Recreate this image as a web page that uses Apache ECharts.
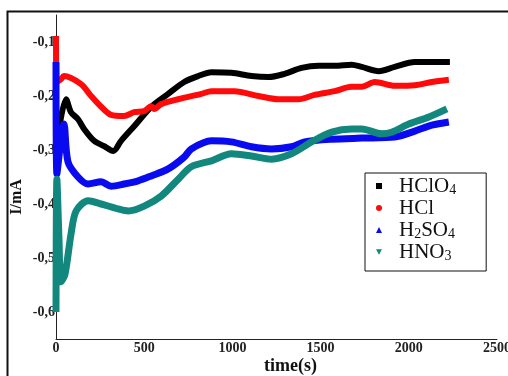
<!DOCTYPE html>
<html>
<head>
<meta charset="utf-8">
<script src="https://cdn.jsdelivr.net/npm/echarts@6/dist/echarts.min.js"></script>
<style>
  html, body { margin: 0; padding: 0; background: #fff; }
  #chart { width: 508px; height: 376px; }
</style>
</head>
<body>
<div id="chart"></div>
<script>
// values (time in s, current in mA)
const hclo4T = [17, 57, 85, 125, 159, 216, 273, 324, 369, 443, 540, 636, 727, 807, 881, 994, 1108, 1205, 1295, 1392, 1489, 1580, 1676, 1733, 1830, 1920, 2034, 2131, 2233];
const hclo4V = [-0.261, -0.206, -0.230, -0.243, -0.261, -0.283, -0.293, -0.302, -0.283, -0.256, -0.220, -0.196, -0.174, -0.163, -0.156, -0.157, -0.163, -0.165, -0.159, -0.148, -0.144, -0.144, -0.142, -0.146, -0.154, -0.146, -0.137, -0.137, -0.137];

const hclT = [0, 3, 28, 45, 142, 199, 256, 312, 386, 443, 500, 540, 557, 597, 693, 824, 881, 1011, 1148, 1261, 1375, 1466, 1580, 1676, 1733, 1807, 1920, 2034, 2131, 2227];
const hclV = [-0.089, -0.174, -0.169, -0.163, -0.178, -0.200, -0.220, -0.235, -0.237, -0.230, -0.228, -0.219, -0.224, -0.215, -0.206, -0.196, -0.191, -0.191, -0.200, -0.206, -0.206, -0.198, -0.191, -0.183, -0.183, -0.174, -0.181, -0.180, -0.174, -0.170];

const h2so4T = [0, 5, 45, 68, 125, 182, 256, 312, 386, 466, 540, 636, 727, 767, 881, 994, 1108, 1222, 1335, 1409, 1563, 1733, 1920, 2034, 2131, 2227];
const h2so4V = [-0.137, -0.344, -0.252, -0.322, -0.350, -0.363, -0.359, -0.367, -0.363, -0.357, -0.348, -0.335, -0.313, -0.298, -0.283, -0.285, -0.294, -0.298, -0.294, -0.285, -0.280, -0.278, -0.276, -0.265, -0.254, -0.248];

const hno3T = [0, 5, 17, 28, 51, 85, 114, 182, 256, 352, 409, 500, 597, 693, 767, 881, 994, 1108, 1222, 1335, 1449, 1563, 1676, 1733, 1847, 1903, 2000, 2114, 2216];
const hno3V = [-0.600, -0.354, -0.465, -0.544, -0.530, -0.456, -0.413, -0.394, -0.400, -0.409, -0.413, -0.404, -0.385, -0.354, -0.331, -0.320, -0.307, -0.311, -0.317, -0.307, -0.285, -0.267, -0.261, -0.261, -0.270, -0.267, -0.252, -0.239, -0.224];

const seriesNames = ['HClO4', 'HCl', 'H2SO4', 'HNO3'];
const legendLabels = ['HClO{s|4}', 'HCl', 'H{s|2}SO{s|4}', 'HNO{s|3}'];
const colors = ['#000000', '#ff0a0a', '#0a0af0', '#12877d'];
const lineWidths = [6, 6, 7, 7];
const icons = ['rect', 'circle', 'triangle', 'path://M0,0L10,0L5,9Z'];
const xTicks = [0, 2500, 500];
const yRange = [-0.65, -0.05];

const serif = 'Liberation Serif';

function pairs(ts, vs) {
  return ts.map((t, i) => [t, vs[i]]);
}

const chart = echarts.init(document.getElementById('chart'));

const allData = [pairs(hclo4T, hclo4V), pairs(hclT, hclV), pairs(h2so4T, h2so4V), pairs(hno3T, hno3V)];

const option = {
  backgroundColor: '#fff',
  animation: false,
  color: colors,
  graphic: [{
    type: 'rect',
    shape: { x: 7.5, y: 11.5, width: 520, height: 400 },
    style: { fill: 'none', stroke: '#111', lineWidth: 2 },
    silent: true
  }],
  grid: { left: 56, top: 15, right: 11, bottom: 37, outerBoundsMode: 'none' },
  legend: {
    orient: 'vertical',
    left: 365,
    top: 173,
    padding: [2, 30, 8, 11],
    itemGap: 0,
    itemWidth: 6,
    itemHeight: 6,
    borderColor: '#111',
    borderWidth: 1,
    backgroundColor: '#fff',
    data: seriesNames.map((n, i) => ({ name: n, icon: icons[i] })),
    formatter: function (name) {
      return legendLabels[seriesNames.indexOf(name)];
    },
    textStyle: {
      fontFamily: serif,
      fontSize: 21,
      lineHeight: 22,
      color: '#111',
      padding: [0, 0, 0, 12],
      rich: {
        s: { fontFamily: serif, fontSize: 14, lineHeight: 22, verticalAlign: 'bottom', padding: [7, 0, 0, 0] }
      }
    }
  },
  xAxis: {
    type: 'value',
    min: xTicks[0],
    max: xTicks[1],
    interval: xTicks[2],
    name: 'time(s)',
    nameLocation: 'middle',
    nameGap: 18,
    nameMoveOverlap: false,
    nameTextStyle: { fontFamily: serif, fontWeight: 'bold', fontSize: 18, color: '#111', padding: [0, 0, 0, 28] },
    axisLine: { lineStyle: { color: '#222', width: 1 } },
    axisTick: { show: false },
    splitLine: { show: false },
    axisLabel: {
      fontFamily: serif, fontWeight: 'bold', fontSize: 14, color: '#222', margin: 2,
      formatter: function (v) { return String(v); }
    }
  },
  yAxis: {
    type: 'value',
    min: yRange[0],
    max: yRange[1],
    interval: 0.05,
    name: 'I/mA',
    nameLocation: 'middle',
    nameGap: 31,
    nameMoveOverlap: false,
    nameRotate: 90,
    nameTextStyle: { fontFamily: serif, fontWeight: 'bold', fontSize: 16, color: '#111', padding: [0, 40, 0, 0] },
    axisLine: { show: true, lineStyle: { color: '#222', width: 1 } },
    axisTick: { show: false },
    splitLine: { show: false },
    axisLabel: {
      fontFamily: serif, fontWeight: 'bold', fontSize: 14, color: '#222', margin: 1,
      formatter: function (v) {
        const k = Math.round(v * 100);
        if (k % 10 !== 0) return '';
        return (k / 100).toFixed(1).replace('.', ',');
      }
    }
  },
  series: seriesNames.map((n, i) => ({
    name: n,
    type: 'line',
    data: allData[i],
    showSymbol: false,
    symbol: 'none',
    smooth: 0.3,
    lineStyle: { width: lineWidths[i], color: colors[i], join: 'round' },
    itemStyle: { color: colors[i] }
  }))
};

chart.setOption(option);
</script>
</body>
</html>
